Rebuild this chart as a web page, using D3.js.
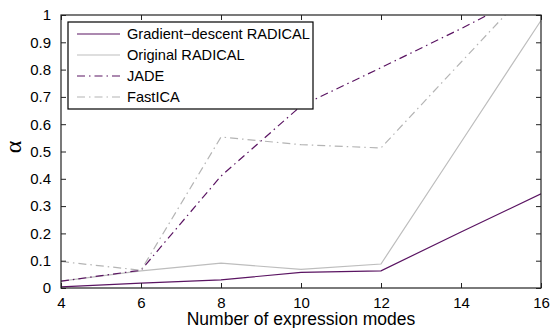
<!DOCTYPE html>
<html>
<head>
<meta charset="utf-8">
<script src="https://cdn.jsdelivr.net/npm/d3@7"></script>
<style>
  body { margin: 0; background: #fff; }
  svg text { font-family: "Liberation Sans", Arial, sans-serif; fill: #000; }
</style>
</head>
<body>
<div id="chart"></div>
<script>
// data
var modes = [4, 6, 8, 10, 12, 14, 16];
var gradientRadical = [0.004, 0.018, 0.03, 0.057, 0.063, 0.205, 0.345];
var originalRadical = [0.025, 0.063, 0.091, 0.068, 0.088, 0.534, 0.98];
var jade = [0.025, 0.065, 0.41, 0.667, 0.807, 0.95, 1.1];
var fastIca = [0.097, 0.065, 0.553, 0.525, 0.513, 0.827, 1.14];

var seriesNames = ["Gradient\u2212descent RADICAL", "Original RADICAL", "JADE", "FastICA"];
var xTicks = [4, 6, 8, 10, 12, 14, 16];
var yTicks = [0, 0.1, 0.2, 0.3, 0.4, 0.5, 0.6, 0.7, 0.8, 0.9, 1];

var series = [
  {name: seriesNames[0], values: gradientRadical, color: "#5a1462", dash: null},
  {name: seriesNames[1], values: originalRadical, color: "#bdbdbd", dash: null},
  {name: seriesNames[2], values: jade, color: "#5a1462", dash: "8,4,1.5,4"},
  {name: seriesNames[3], values: fastIca, color: "#b4b4b4", dash: "8,4,1.5,4"}
];

var W = 550, H = 328;
var margin = {top: 15, right: 9, bottom: 40, left: 61};
var width = W - margin.left - margin.right;
var height = H - margin.top - margin.bottom;

var svg = d3.select("#chart").append("svg")
    .attr("width", W)
    .attr("height", H);

var x = d3.scaleLinear().domain([4, 16]).range([0, width]);
var y = d3.scaleLinear().domain([0, 1]).range([height, 0]);

var g = svg.append("g")
    .attr("transform", "translate(" + margin.left + "," + margin.top + ")");

g.append("clipPath").attr("id", "plot-clip")
  .append("rect")
    .attr("width", width)
    .attr("height", height);

// lines
var line = d3.line()
    .x(function(d, i) { return x(modes[i]); })
    .y(function(d) { return y(d); });

g.append("g").attr("clip-path", "url(#plot-clip)")
  .selectAll(".series")
  .data(series)
  .enter().append("path")
    .attr("d", function(d) { return line(d.values); })
    .attr("fill", "none")
    .attr("stroke", function(d) { return d.color; })
    .attr("stroke-width", 1.2)
    .attr("stroke-dasharray", function(d) { return d.dash; });

// axes, ticks pointing inward on all four sides
var tickLen = 5;
var axisFont = "15px";

g.append("g")
    .attr("transform", "translate(0," + height + ")")
    .call(d3.axisBottom(x).tickValues(xTicks).tickSizeInner(-tickLen).tickSizeOuter(0).tickPadding(9))
    .call(function(a) { a.select(".domain").remove(); })
    .selectAll("text").style("font-size", axisFont);

g.append("g")
    .call(d3.axisLeft(y).tickValues(yTicks).tickFormat(d3.format("~g")).tickSizeInner(-tickLen).tickSizeOuter(0).tickPadding(10))
    .call(function(a) { a.select(".domain").remove(); })
    .selectAll("text").style("font-size", axisFont);

g.append("g")
    .call(d3.axisTop(x).tickValues(xTicks).tickSizeInner(-tickLen).tickSizeOuter(0).tickFormat(""))
    .call(function(a) { a.select(".domain").remove(); });

g.append("g")
    .attr("transform", "translate(" + width + ",0)")
    .call(d3.axisRight(y).tickValues(yTicks).tickSizeInner(-tickLen).tickSizeOuter(0).tickFormat(""))
    .call(function(a) { a.select(".domain").remove(); });

g.selectAll(".tick line").attr("stroke", "#222");

// frame
g.append("rect")
    .attr("width", width)
    .attr("height", height)
    .attr("fill", "none")
    .attr("stroke", "#222")
    .attr("stroke-width", 1.2);

// axis labels
svg.append("text")
    .attr("x", margin.left + width / 2)
    .attr("y", 325)
    .attr("text-anchor", "middle")
    .style("font-size", "17.5px")
    .text("Number of expression modes");

svg.append("text")
    .attr("transform", "translate(21,147) rotate(-90)")
    .attr("text-anchor", "middle")
    .style("font-family", "'Liberation Serif', serif")
    .style("font-size", "24px")
    .text("\u03b1");

// legend
var legend = svg.append("g").attr("transform", "translate(68,22)");

legend.append("rect")
    .attr("width", 245)
    .attr("height", 87)
    .attr("fill", "#fff")
    .attr("stroke", "#000")
    .attr("stroke-width", 1.2);

var rows = legend.selectAll(".row")
    .data(series)
    .enter().append("g")
    .attr("transform", function(d, i) { return "translate(0," + (12 + i * 21) + ")"; });

rows.append("line")
    .attr("x1", 9)
    .attr("x2", 52)
    .attr("stroke", function(d) { return d.color; })
    .attr("stroke-width", 1.2)
    .attr("stroke-dasharray", function(d) { return d.dash; });

rows.append("text")
    .attr("x", 59)
    .attr("dy", "0.35em")
    .style("font-size", "14.6px")
    .text(function(d) { return d.name; });
</script>
</body>
</html>
